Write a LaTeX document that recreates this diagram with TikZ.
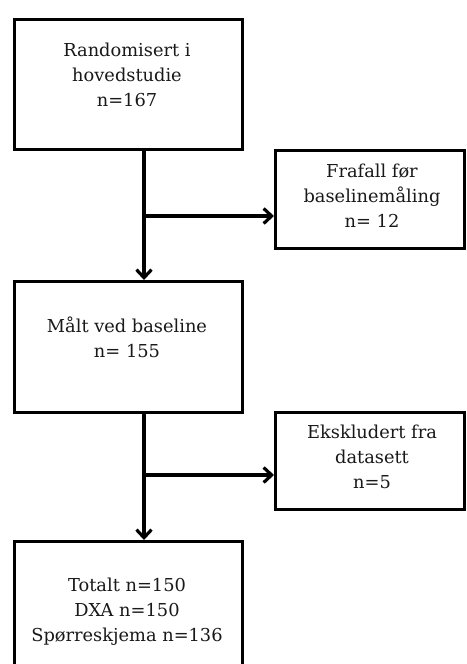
\documentclass[tikz,border=0pt]{standalone}
\usepackage{fontspec}
\setmainfont{DejaVu Serif}
\usetikzlibrary{arrows.meta}
\begin{document}
\begin{tikzpicture}[x=1pt,y=-1pt,
  box/.style={draw=black,line width=3.2pt,inner sep=0pt,anchor=north west},
  txt/.style={font=\fontsize{17.8}{25}\selectfont,align=center,text=black!90},
  conn/.style={line width=3.4pt,-{Straight Barb[length=8pt,width=15pt,line width=3.2pt]}}]
\clip (0,0) rectangle (466,664);
\fill[white] (0,0) rectangle (466,664);
\node[box,minimum width=228pt,minimum height=130pt] (b1) at (13,18) {};
\node[box,minimum width=189pt,minimum height=98pt] (b2) at (274,149) {};
\node[box,minimum width=228pt,minimum height=131pt] (b3) at (13,280) {};
\node[box,minimum width=189pt,minimum height=97pt] (b4) at (274,411) {};
\node[box,minimum width=228pt,minimum height=140pt] (b5) at (13,540) {};
\node[txt] (t1) at (127,75) {Randomisert i\\hovedstudie\\n=167};
\node[txt] (t2) at (372,196) {Frafall før\\baselinemåling\\n= 12};
\node[txt] (t3) at (127,337) {Målt ved baseline\\n= 155};
\node[txt] (t4) at (372,457) {Ekskludert fra\\datasett\\n=5};
\node[txt] (t5) at (127,612) {Totalt n=150\\DXA n=150\\Spørreskjema n=136};
\coordinate (s1) at (144,148);
\coordinate (j1) at (144,216);
\coordinate (s3) at (144,411);
\coordinate (j2) at (144,475);
\draw[conn] (s1) -- (s1 |- b3.north);
\draw[conn] (j1) -- (j1 -| b2.west);
\draw[conn] (s3) -- (s3 |- b5.north);
\draw[conn] (j2) -- (j2 -| b4.west);
\end{tikzpicture}
\end{document}
